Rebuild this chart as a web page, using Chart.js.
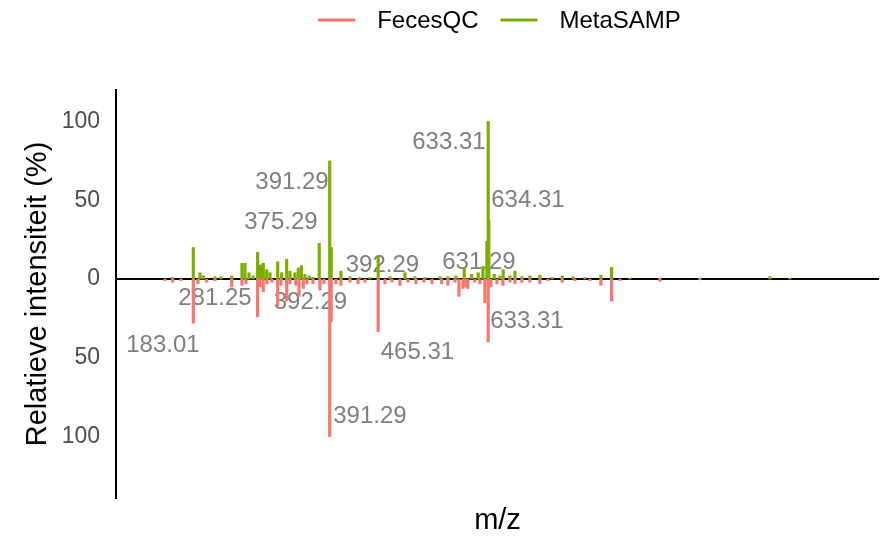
<!DOCTYPE html>
<html>
<head>
<meta charset="utf-8">
<script src="https://cdn.jsdelivr.net/npm/chart.js@4"></script>
<style>
  html, body { margin: 0; padding: 0; background: #fff; }
  #wrap { width: 889px; height: 542px; }
</style>
</head>
<body>
<div id="wrap"><canvas id="myChart" width="889" height="542"></canvas></div>
<script>
// mirror plot: MetaSAMP up, FecesQC down (relative intensity %)
var seriesNames = ['FecesQC', 'MetaSAMP'];
var seriesColors = ['#F8766D', '#7CAE00'];

var fecesMz = [139.81, 151.56, 164.23, 183.01, 190.18, 203.47, 216.14, 241.63, 257.35, 263.46,
  281.25, 284.83, 289.87, 295.51, 303.15, 311.85, 316.88, 325.59, 330.62, 339.78,
  344.36, 350.93, 356.57, 365.73, 376.42, 382.52, 391.29, 393.6, 400.84, 408.47,
  422.21, 434.42, 445.11, 465.31, 475.64, 486.33, 498.54, 510.75, 522.96, 535.17,
  547.39, 562.19, 571.81, 582.5, 588.6, 594.71, 599.29, 602.34, 613.02, 620.66,
  628.29, 633.31, 637.45, 646.61, 655.77, 666.45, 674.09, 684.77, 696.98, 712.25,
  724.46, 746.29, 765.68, 788.57, 805.36, 821.7, 834.37, 895.43, 956.49];
var fecesInt = [-1, -2, -1, -28, -3, -2, -1, -5, -4, -3,
  -24, -5, -8, -3, -2, -17, -4, -14, -3, -4,
  -11, -6, -3, -3, -7, -3, -100, -27, -3, -4,
  -2, -3, -2, -33.5, -3, -2, -4, -2, -3, -2,
  -3, -3, -4, -2, -11, -6, -5, -6, -2, -3,
  -15, -40, -5, -3, -4, -2, -3, -2, -2, -3,
  -1, -2, -1, -1, -4, -14, -1, -1.5, -0.5];

var metaMz = [150.95, 183.01, 193.24, 198.28, 216.14, 225.29, 241.63, 257.35, 261.93, 268.04,
  274.14, 281.25, 285.59, 289.87, 295.06, 300.09, 311.85, 317.95, 325.59, 330.62,
  338.26, 343.29, 348.18, 353.52, 360.08, 365.73, 375.29, 391.29, 393.6, 408.47,
  422.21, 437.48, 452.74, 465.31, 483.27, 506.17, 521.43, 536.7, 559.6, 571.81,
  584.02, 596.69, 607.99, 618.06, 625.24, 631.29, 633.31, 634.31, 642.49, 651.19,
  656.23, 666.45, 674.09, 684.77, 696.98, 712.25, 730.57, 746.29, 763.08, 780.94,
  805.36, 821.7, 849.63, 895.43, 956.49, 1063.34, 1093.87];
var metaInt = [1, 20, 4, 2, 1.5, 1.5, 2, 10, 10, 4,
  2, 17, 9, 10, 6, 4, 11, 4, 12.5, 5,
  4, 7, 8.5, 3, 2, 1, 22.6, 75, 20, 5,
  1.5, 1, 1, 14, 1.5, 4, 1.5, 1, 1.5, 1.5,
  2, 7, 3, 4, 8, 24, 100, 37, 3, 2,
  6, 2, 5, 1.5, 2, 2.5, 1, 2, 1.5, 1,
  2.5, 7.4, 0.6, 0.6, 0.6, 1.5, 0.6];

// peak annotations (text, position in m/z and intensity units)
var labelText = ['633.31', '634.31', '391.29', '375.29', '392.29', '631.29',
  '281.25', '392.29', '183.01', '465.31', '633.31', '391.29'];
var labelX = [573.3, 693.9, 333.7, 316.9, 471.8, 619.1, 216.1, 361.9, 136.7, 525.2, 692.4, 452.7];
var labelY = [86.7, 50, 61.4, 36.1, 8.9, 10.8, -12, -14.6, -41.8, -46.8, -26.6, -87.3];

var yTicks = [-100, -50, 0, 50, 100];

var fontFam = "'Liberation Sans', Arial, Helvetica, sans-serif";

function toPoints(xs, ys) {
  return xs.map(function (x, i) { return { x: x, y: ys[i] }; });
}

var peakLabels = {
  id: 'peakLabels',
  beforeDatasetsDraw: function (chart) {
    var ctx = chart.ctx, area = chart.chartArea;
    var xs = chart.scales.x, ys = chart.scales.y;
    ctx.save();
    ctx.font = '24px ' + fontFam;
    ctx.fillStyle = '#808080';
    ctx.textAlign = 'center';
    ctx.textBaseline = 'middle';
    for (var i = 0; i < labelText.length; i++) {
      ctx.fillText(labelText[i], xs.getPixelForValue(labelX[i]), ys.getPixelForValue(labelY[i]));
    }
    // zero line, under the peaks
    var y0 = ys.getPixelForValue(0);
    ctx.strokeStyle = '#000';
    ctx.lineWidth = 2;
    ctx.beginPath();
    ctx.moveTo(area.left, y0);
    ctx.lineTo(area.right, y0);
    ctx.stroke();
    ctx.restore();
  },
  afterDraw: function (chart) {
    // legend on top
    var ctx = chart.ctx, area = chart.chartArea;
    ctx.save();
    ctx.font = '24px ' + fontFam;
    var lineLen = 37, gap = 22, between = 22;
    var widths = seriesNames.map(function (n) { return lineLen + gap + ctx.measureText(n).width; });
    var total = widths[0] + widths[1] + between;
    var x = (area.left + area.right) / 2 - total / 2 + 2;
    var y = 20;
    ctx.textBaseline = 'middle';
    ctx.textAlign = 'left';
    for (var i = 0; i < seriesNames.length; i++) {
      ctx.strokeStyle = seriesColors[i];
      ctx.lineWidth = 3;
      ctx.beginPath();
      ctx.moveTo(x, y);
      ctx.lineTo(x + lineLen, y);
      ctx.stroke();
      ctx.fillStyle = '#000';
      ctx.fillText(seriesNames[i], x + lineLen + gap, y + 1);
      x += widths[i] + between;
    }
    ctx.restore();
  }
};

let ctx = document.getElementById('myChart').getContext('2d');
let myChart = new Chart(ctx, {
  type: 'bar',
  data: {
    datasets: [{
      label: seriesNames[0],
      data: toPoints(fecesMz, fecesInt),
      backgroundColor: seriesColors[0],
      barThickness: 2.5,
      grouped: false
    }, {
      label: seriesNames[1],
      data: toPoints(metaMz, metaInt),
      backgroundColor: seriesColors[1],
      barThickness: 2.5,
      grouped: false
    }]
  },
  plugins: [peakLabels],
  options: {
    responsive: false,
    animation: false,
    layout: { padding: { top: 90, left: 0, right: 10, bottom: 0 } },
    plugins: {
      legend: { display: false },
      tooltip: { enabled: false }
    },
    scales: {
      x: {
        type: 'linear',
        offset: false,
        min: 65,
        max: 1230,
        grid: { display: false, drawTicks: false, offset: false },
        border: { display: false },
        ticks: { display: false },
        title: {
          display: true,
          text: 'm/z',
          color: '#000',
          font: { family: fontFam, size: 29 },
          padding: { top: 0, bottom: 4 }
        },
        afterFit: function (s) { s.height = 44; }
      },
      y: {
        min: -139,
        max: 120,
        grid: { display: false, drawTicks: false },
        border: { display: true, color: '#000', width: 2 },
        afterBuildTicks: function (s) {
          s.ticks = yTicks.map(function (v) { return { value: v }; });
        },
        ticks: {
          padding: 16,
          color: '#4d4d4d',
          font: { family: fontFam, size: 23 },
          callback: function (v) { return Math.abs(v); }
        },
        title: {
          display: true,
          text: 'Relatieve intensiteit (%)',
          color: '#000',
          font: { family: fontFam, size: 29 },
          padding: { top: 21, bottom: 0 }
        },
        afterFit: function (s) { s.width = 116; }
      }
    }
  }
});
</script>
</body>
</html>
